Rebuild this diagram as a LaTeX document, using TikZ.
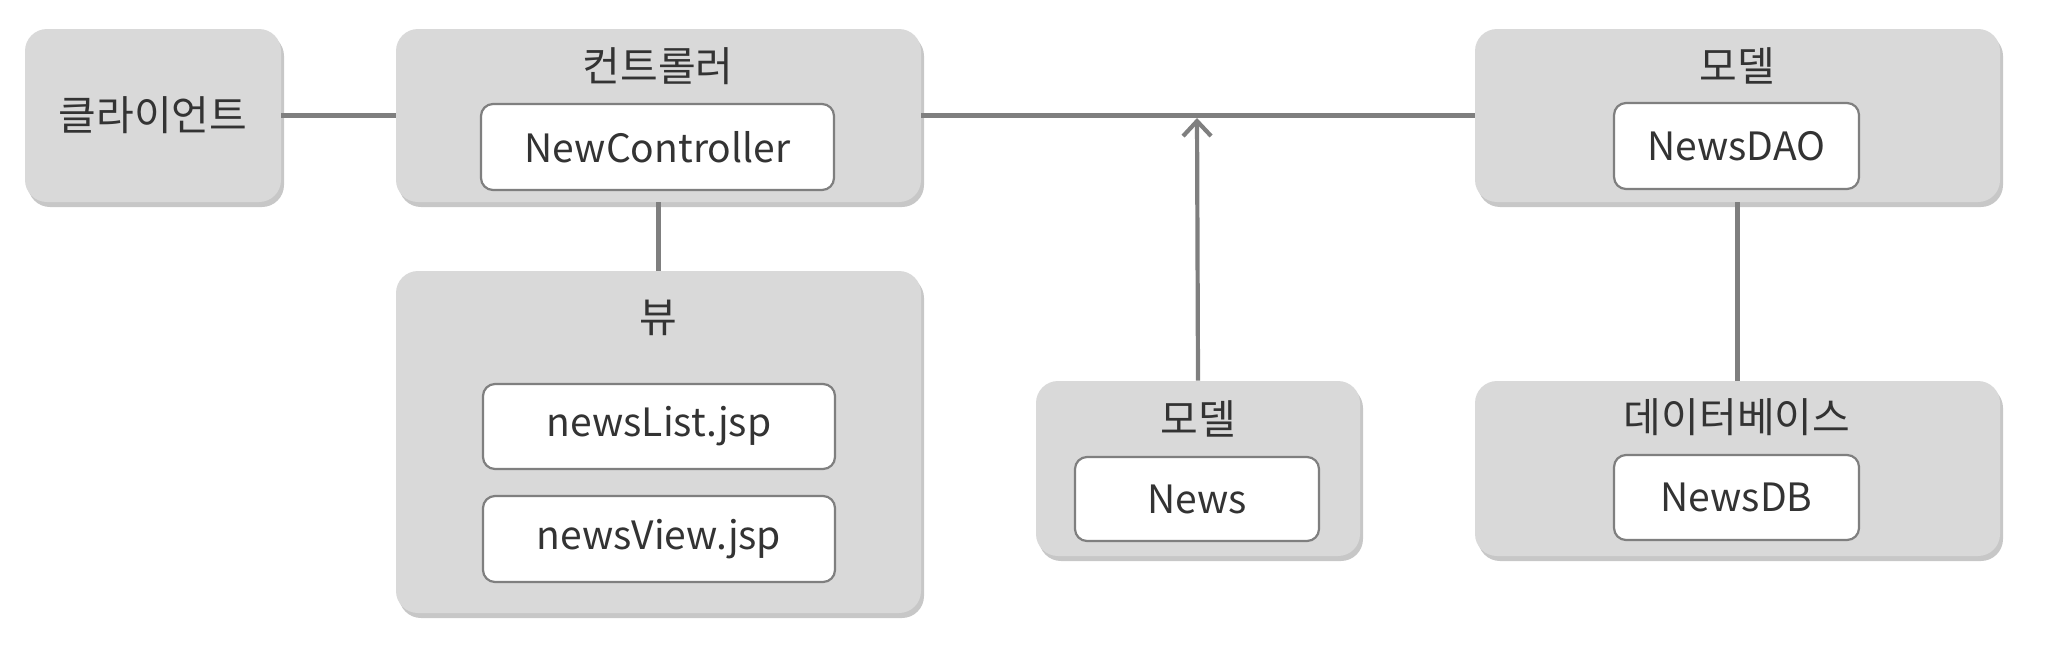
\documentclass[tikz,border=0pt]{standalone}
\usepackage{fontspec}
\setmainfont{Noto Sans CJK KR}
\usetikzlibrary{shadows,arrows.meta}
\definecolor{boxfill}{HTML}{D9D9D9}
\definecolor{linegray}{HTML}{7F7F7F}
\definecolor{txt}{HTML}{333333}
\tikzset{
  group/.style={fill=boxfill, draw=none, rounded corners=11pt,
    drop shadow={shadow xshift=1.5pt, shadow yshift=-2.5pt, fill=black, opacity=0.22},
    inner sep=0pt},
  item/.style={fill=white, draw=linegray, line width=1.1pt, rounded corners=6pt,
    inner sep=0pt, font=\fontsize{19.5pt}{23pt}\selectfont, text=txt},
  title/.style={font=\fontsize{20.5pt}{24pt}\selectfont, text=txt, inner sep=0pt},
  conn/.style={draw=linegray, line width=2.1pt}
}
\begin{document}
\begin{tikzpicture}[x=0.5pt,y=-0.5pt]
\useasboundingbox (0,0) rectangle (2048,648);
% group boxes
\node[group, minimum width=128pt, minimum height=86.5pt, font=\fontsize{20.5pt}{24pt}\selectfont, text=txt] (client) at (153,115.5) {클라이언트};
\node[group, minimum width=262.5pt, minimum height=86.5pt] (ctrl) at (658.5,115.5) {};
\node[group, minimum width=262.5pt, minimum height=171pt] (view) at (658.5,442) {};
\node[group, minimum width=262.5pt, minimum height=86.5pt] (modeltop) at (1737.5,115.5) {};
\node[group, minimum width=162pt, minimum height=87.5pt] (modelnews) at (1198,468.5) {};
\node[group, minimum width=262.5pt, minimum height=87.5pt] (db) at (1737.5,468.5) {};
% titles
\node[title] (ctrlt) at (658,66) {컨트롤러};
\node[title] (viewt) at (658,318) {뷰};
\node[title] (modeltopt) at (1737,66) {모델};
\node[title] (modelnewst) at (1198,419) {모델};
\node[title] (dbt) at (1737,417) {데이터베이스};
% items
\node[item, minimum width=176.5pt, minimum height=43pt] (nc) at (657.5,147) {NewController};
\node[item, minimum width=176pt, minimum height=42.5pt] (nl) at (659,426.5) {newsList.jsp};
\node[item, minimum width=176pt, minimum height=43pt] (nv) at (659,539) {newsView.jsp};
\node[item, minimum width=122.5pt, minimum height=43pt] (dao) at (1736.5,146) {NewsDAO};
\node[item, minimum width=122pt, minimum height=42pt] (news) at (1197,499) {News};
\node[item, minimum width=122.5pt, minimum height=42.5pt] (ndb) at (1736.5,497.5) {NewsDB};
% connectors
\coordinate (tip) at (1197,118);
\draw[conn] (client.east) -- (ctrl.west);
\draw[conn] (ctrl.east) -- (modeltop.west);
\draw[conn] (ctrl.south) -- (view.north);
\draw[conn] (modeltop.south) -- (db.north);
\draw[conn, -{Straight Barb[length=7.5pt, width=14pt, line width=2.1pt]}] (modelnews.north) -- (tip);
\end{tikzpicture}
\end{document}
